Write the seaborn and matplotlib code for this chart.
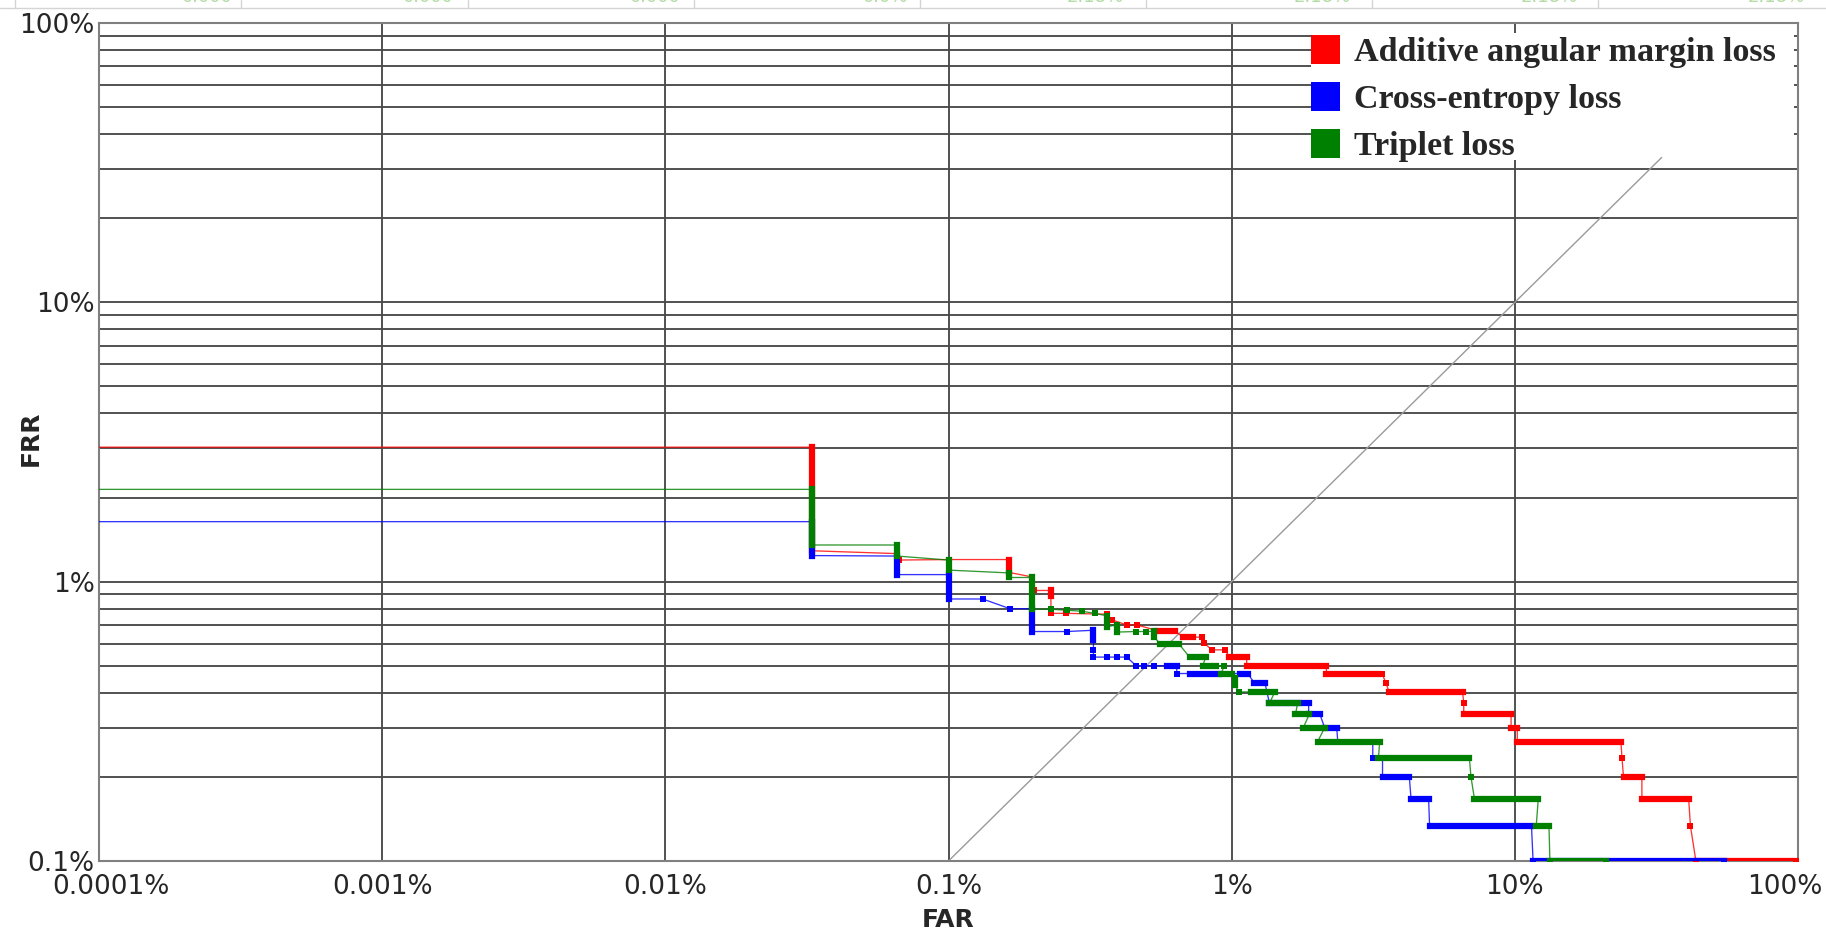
import numpy as np
import pandas as pd
import matplotlib
matplotlib.use("Agg")
import matplotlib.pyplot as plt
from matplotlib.patches import Patch, Rectangle
from matplotlib.lines import Line2D
from matplotlib.font_manager import FontProperties
from matplotlib.ticker import FixedLocator, FixedFormatter, NullFormatter
from matplotlib.transforms import ScaledTranslation
import seaborn as sns

# ---- data (FAR and FRR in percent) ----
series_names = ["Additive angular margin loss", "Cross-entropy loss", "Triplet loss"]
series_colors = ["#ff0000", "#0000ff", "#008000"]

# dense = 1 means the stretch to the next vertex is a run of coincident operating points
aam_far = [0.0001, 0.033, 0.033, 0.066, 0.067, 0.1, 0.163, 0.163, 0.197, 0.2, 0.23, 0.23,
           0.23, 0.26, 0.362, 0.377, 0.426, 0.462, 0.55, 0.63, 0.673, 0.73, 0.787, 0.80,
           0.85, 0.95, 0.98, 1.13, 1.13, 2.16, 2.16, 3.3, 3.4, 3.51, 3.6, 6.54, 6.6, 6.6,
           9.7, 9.7, 10.2, 10.2, 23.7, 23.9, 24.2, 28.1, 28.1, 41.1, 41.7, 43.6, 98.0]
aam_frr = [3.03, 3.03, 1.29, 1.26, 1.195, 1.2, 1.2, 1.08, 1.04, 0.93, 0.93, 0.89,
           0.77, 0.77, 0.765, 0.73, 0.70, 0.70, 0.667, 0.667, 0.633, 0.633, 0.633, 0.603,
           0.57, 0.57, 0.536, 0.536, 0.5, 0.5, 0.467, 0.467, 0.467, 0.433, 0.402, 0.402, 0.367, 0.335,
           0.335, 0.299, 0.299, 0.267, 0.267, 0.234, 0.2, 0.2, 0.167, 0.167, 0.1335, 0.1, 0.1]
aam_dense = [0, 1, 0, 0, 0, 0, 1, 0, 0, 0, 1, 0,
             0, 0, 0, 0, 0, 0, 1, 0, 1, 0, 0, 0,
             0, 0, 1, 0, 1, 0, 1, 0, 0, 0, 1, 0, 0, 1,
             0, 1, 0, 1, 0, 0, 1, 0, 1, 0, 0, 1, 0]

ce_far = [0.0001, 0.033, 0.033, 0.066, 0.066, 0.1, 0.1, 0.132, 0.165, 0.197, 0.197, 0.262,
          0.325, 0.325, 0.325, 0.325, 0.362, 0.393, 0.426, 0.46, 0.49, 0.53, 0.59, 0.64,
          0.64, 0.71, 0.90, 1.07, 1.14, 1.2, 1.31, 1.36, 1.87, 1.87, 2.05, 2.13, 2.35,
          2.37, 3.15, 3.15, 3.41, 3.41, 4.24, 4.3, 4.96, 5.0, 11.45, 11.6, 54.6]
ce_frr = [1.64, 1.64, 1.24, 1.235, 1.06, 1.06, 0.867, 0.867, 0.80, 0.80, 0.663, 0.663,
          0.67, 0.62, 0.57, 0.537, 0.537, 0.537, 0.537, 0.5, 0.5, 0.5, 0.5, 0.5,
          0.469, 0.469, 0.469, 0.469, 0.469, 0.435, 0.435, 0.367, 0.367, 0.335, 0.335, 0.3, 0.3,
          0.267, 0.267, 0.234, 0.234, 0.2, 0.2, 0.167, 0.167, 0.1335, 0.1335, 0.1, 0.1]
ce_dense = [0, 1, 0, 1, 0, 1, 0, 0, 0, 1, 0, 0,
            1, 0, 0, 0, 0, 0, 0, 0, 0, 0, 1, 0,
            0, 1, 0, 1, 0, 1, 0, 1, 0, 1, 0, 1, 0,
            0, 0, 0, 0, 1, 0, 1, 0, 1, 0, 1, 0]

tri_far = [0.0001, 0.033, 0.033, 0.066, 0.066, 0.1, 0.1, 0.163, 0.163, 0.197, 0.197, 0.23,
           0.262, 0.295, 0.328, 0.362, 0.362, 0.393, 0.393, 0.46, 0.50, 0.53, 0.53, 0.56,
           0.65, 0.71, 0.81, 0.79, 0.88, 0.94, 0.92, 1.0, 1.03, 1.03, 1.06, 1.17, 1.42,
           1.36, 1.71, 1.68, 1.88, 1.79, 2.13, 2.01, 3.33, 3.30, 6.91, 7.0, 7.2, 12.1,
           11.9, 13.2, 13.3, 21.0]
tri_frr = [2.14, 2.14, 1.353, 1.353, 1.235, 1.195, 1.10, 1.075, 1.035, 1.035, 0.797, 0.797,
           0.79, 0.784, 0.77, 0.755, 0.69, 0.70, 0.66, 0.663, 0.663, 0.665, 0.635, 0.60,
           0.60, 0.537, 0.537, 0.5, 0.5, 0.5, 0.469, 0.469, 0.452, 0.425, 0.403, 0.403, 0.403,
           0.367, 0.367, 0.335, 0.335, 0.3, 0.3, 0.267, 0.267, 0.234, 0.234, 0.2, 0.167, 0.167,
           0.1335, 0.1335, 0.1, 0.1]
tri_dense = [0, 1, 0, 1, 0, 1, 0, 1, 0, 1, 0, 0,
             0, 0, 0, 1, 0, 1, 0, 0, 0, 1, 0, 1,
             0, 1, 0, 1, 0, 0, 1, 0, 1, 0, 0, 1, 0,
             1, 0, 1, 0, 1, 0, 1, 0, 1, 0, 0, 1, 0,
             1, 0, 1, 0]

diag_far = [0.1, 33.0]
diag_frr = [0.1, 33.0]

x_ticks = [1e-4, 1e-3, 1e-2, 1e-1, 1, 10, 100]
x_tick_labels = ["0.0001%", "0.001%", "0.01%", "0.1%", "1%", "10%", "100%"]
y_ticks = [0.1, 1, 10, 100]
y_tick_labels = ["0.1%", "1%", "10%", "100%"]
y_minor = [m * 10.0 ** e for e in (-1, 0, 1) for m in range(2, 10)]

# top strip of the surrounding table
strip_edges = [15, 241, 468, 694, 920, 1146, 1372, 1598]
strip_text_right = [233, 454, 681, 908, 1124, 1351, 1578, 1805]
strip_texts = ["0.000", "0.000", "0.000", "0.0%", "2.18%", "2.18%", "2.18%", "2.18%"]

# ---- figure ----
W, H = 1826, 941
sns.set_style("white")
plt.rcParams["font.family"] = ["DejaVu Sans"]

fig = plt.figure(figsize=(W / 100, H / 100), dpi=100)
ax = fig.add_axes([99 / W, (H - 861) / H, (1798 - 99) / W, (861 - 23) / H])
ax.set_xscale("log")
ax.set_yscale("log")
ax.set_xlim(1e-4, 100)
ax.set_ylim(0.1, 100)

grid_kw = dict(color="#4a4a4a", lw=1.35)
ax.xaxis.set_major_locator(FixedLocator(x_ticks))
ax.xaxis.set_major_formatter(FixedFormatter(x_tick_labels))
ax.xaxis.set_minor_locator(FixedLocator([]))
ax.yaxis.set_major_locator(FixedLocator(y_ticks))
ax.yaxis.set_major_formatter(FixedFormatter(y_tick_labels))
ax.yaxis.set_minor_locator(FixedLocator(y_minor))
ax.yaxis.set_minor_formatter(NullFormatter())
ax.grid(True, which="major", axis="both", **grid_kw)
ax.grid(True, which="minor", axis="y", **grid_kw)
ax.set_axisbelow(True)
ax.tick_params(which="both", length=0)
ax.tick_params(axis="x", labelsize=19, pad=9)
ax.tick_params(axis="y", labelsize=19, pad=3)
for sp in ax.spines.values():
    sp.set_color("#808080")
    sp.set_linewidth(1.5)

# chance diagonal
sns.lineplot(x=diag_far, y=diag_frr, color="#9a9a9a", lw=1.0, ax=ax, zorder=2, legend=False)


def draw_curve(far, frr, dense, color, z):
    path = pd.DataFrame({"far": far, "frr": frr})
    sns.lineplot(data=path, x="far", y="frr", sort=False, estimator=None, color=color,
                 lw=0.95, alpha=0.8, ax=ax, zorder=z, legend=False)
    rows = []
    for i in range(len(far) - 1):
        if dense[i]:
            rows.append({"run": i, "far": far[i], "frr": frr[i]})
            rows.append({"run": i, "far": far[i + 1], "frr": frr[i + 1]})
    runs = pd.DataFrame(rows)
    sns.lineplot(data=runs, x="far", y="frr", units="run", estimator=None, sort=False,
                 color=color, lw=4.5, solid_capstyle="projecting", ax=ax, zorder=z,
                 legend=False)
    sns.scatterplot(data=path.iloc[1:], x="far", y="frr", marker="s", s=20, linewidth=0,
                    color=color, ax=ax, zorder=z, legend=False)


draw_curve(aam_far, aam_frr, aam_dense, series_colors[0], 3)
draw_curve(ce_far, ce_frr, ce_dense, series_colors[1], 4)
draw_curve(tri_far, tri_frr, tri_dense, series_colors[2], 5)

ax.set_xlabel("FAR", fontsize=18, fontweight="bold", labelpad=6)
ax.set_ylabel("FRR", fontsize=18, fontweight="bold")
ax.yaxis.set_label_coords((43 - 99) / (1798 - 99), 0.505)

# opaque legend panel over the grid
ax.add_patch(Rectangle((1311 / W, 1 - 160 / H), (1794 - 1311) / W, 127 / H,
                       transform=fig.transFigure, facecolor="white", edgecolor="none",
                       zorder=1.5))
handles = [Patch(facecolor=c, edgecolor="none") for c in series_colors]
ax.legend(handles, series_names, loc="upper left",
          bbox_to_anchor=(1311 / W, 1 - 35 / H), bbox_transform=fig.transFigure,
          frameon=False, prop=FontProperties(family="Liberation Serif", weight="bold", size=24.5),
          handlelength=0.85, handleheight=0.95, handletextpad=0.42, labelspacing=0.4,
          borderpad=0, borderaxespad=0)

# table strip above the chart
fig.add_artist(Line2D([0, 1], [1 - 8 / H, 1 - 8 / H], transform=fig.transFigure,
                      color="#d4d4d4", lw=1))
for xe in strip_edges:
    fig.add_artist(Line2D([xe / W, xe / W], [1 - 8 / H, 1], transform=fig.transFigure,
                          color="#d4d4d4", lw=1))
for xr, t in zip(strip_text_right, strip_texts):
    fig.text(xr / W, 1 - 2 / H, t, ha="right", va="baseline", fontsize=13, color="#b4dca6")

# keep the outermost FAR labels inside the canvas
fig.canvas.draw()
xlabels = ax.xaxis.get_majorticklabels()
xlabels[0].set_transform(xlabels[0].get_transform() + ScaledTranslation(0.12, 0, fig.dpi_scale_trans))
xlabels[-1].set_transform(xlabels[-1].get_transform() + ScaledTranslation(-0.13, 0, fig.dpi_scale_trans))

fig.savefig("out.png", dpi=100)
